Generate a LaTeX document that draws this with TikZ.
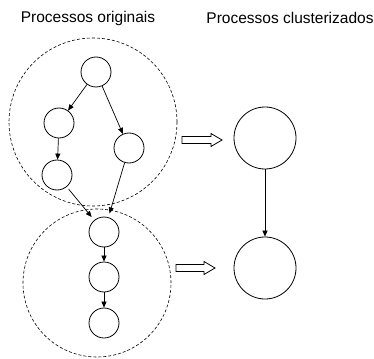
\documentclass[tikz,border=0pt]{standalone}
\usepackage{fontspec}
\setmainfont{Liberation Sans}
\usetikzlibrary{arrows.meta}
\begin{document}
\begin{tikzpicture}[x=1pt,y=-1pt,
  proc/.style={circle,draw,line width=0.8pt,minimum size=30pt,inner sep=0pt},
  cluster/.style={circle,draw,line width=0.8pt,minimum size=62pt,inner sep=0pt},
  group/.style={circle,draw,dashed,dash pattern=on 3pt off 2pt,line width=0.6pt,inner sep=0pt},
  edge/.style={-{Triangle[length=6pt,width=5pt]},line width=0.7pt},
  hollow/.style={draw,line width=0.8pt,fill=white},
  title/.style={font=\fontsize{15.5}{18}\selectfont,inner sep=0pt}]
\useasboundingbox (0,0) rectangle (374,358);
% titles
\node[title] (t1) at (88,18) {Processos originais};
\node[title] (t2) at (290,18) {Processos clusterizados};
% dashed groupings
\node[group,minimum size=168pt] (g1) at (93,122) {};
\node[group,minimum size=148pt] (g2) at (97,283) {};
% original processes
\node[proc] (a) at (96,72) {};
\node[proc] (b) at (59,123) {};
\node[proc] (c) at (57,175) {};
\node[proc] (d) at (129,148) {};
\node[proc] (e) at (104,232) {};
\node[proc] (f) at (104,277) {};
\node[proc] (g) at (104,323) {};
\draw[edge] (a) -- (b);
\draw[edge] (a) -- (d);
\draw[edge] (b) -- (c);
\draw[edge,shorten <=3pt,shorten >=4pt] (c) -- (e);
\draw[edge,shorten >=4pt] (d) -- (e);
\draw[edge] (e) -- (f);
\draw[edge] (f) -- (g);
% clustered processes
\node[cluster] (p) at (265,138) {};
\node[cluster] (q) at (265,268) {};
\draw[edge] (p) -- (q);
% hollow arrows
\coordinate (h1) at (182,140);
\coordinate (h2) at (176,268);
\draw[hollow] (h1) ++(0,-3.5) -- ++(29,0) -- ++(0,-3) -- ++(11,6.5) -- ++(-11,6.5) -- ++(0,-3) -- ++(-29,0) -- cycle;
\draw[hollow] (h2) ++(0,-3.5) -- ++(28,0) -- ++(0,-3) -- ++(11,6.5) -- ++(-11,6.5) -- ++(0,-3) -- ++(-28,0) -- cycle;
\end{tikzpicture}
\end{document}
